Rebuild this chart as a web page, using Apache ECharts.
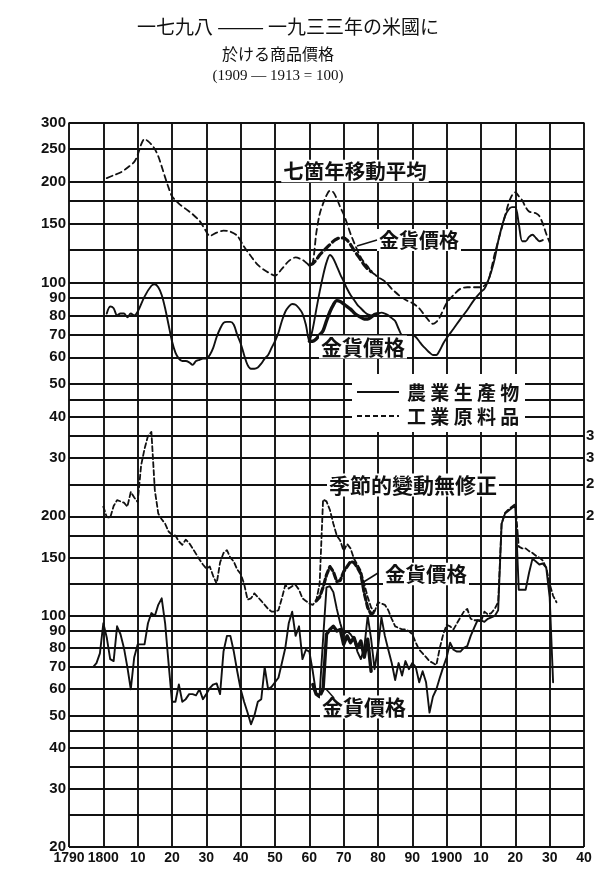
<!DOCTYPE html>
<html>
<head>
<meta charset="utf-8">
<script src="https://cdn.jsdelivr.net/npm/echarts@6/dist/echarts.min.js"></script>
<style>
  html, body { margin: 0; padding: 0; background: #fff; }
  #chart { width: 594px; height: 874px; }
</style>
</head>
<body>
<div id="chart"></div>
<script>
// ---- axes ----
const xTicks = [1790, 1800, 1810, 1820, 1830, 1840, 1850, 1860, 1870, 1880, 1890, 1900, 1910, 1920, 1930, 1940];
const xTickLabels = ['1790', '1800', '10', '20', '30', '40', '50', '60', '70', '80', '90', '1900', '10', '20', '30', '40'];

const topGridValues = [35, 40, 45, 50, 60, 70, 80, 90, 100, 125, 150, 175, 200, 250, 300];
const topLabelValues = [40, 50, 60, 70, 80, 90, 100, 150, 200, 250, 300];
const bottomGridValues = [20, 25, 30, 35, 40, 45, 50, 60, 70, 80, 90, 100, 125, 150, 175, 200, 250, 300, 350];
const bottomLabelValues = [20, 30, 40, 50, 60, 70, 80, 90, 100, 150, 200, 300];
const bottomLabelText = ['20', '30', '40', '50', '60', '70', '80', '90', '100', '150', '200', '30'];
const rightLabelValues = [200, 250, 300, 350];

// ---- seven-year moving averages (1909-1913 = 100) ----
const maIndYears = [1801, 1803, 1805, 1807, 1809, 1810, 1811, 1812, 1813, 1814, 1815, 1816, 1817, 1818, 1819, 1820, 1822, 1824, 1826, 1828, 1830, 1831, 1833, 1835, 1837, 1839, 1841, 1843, 1845, 1847, 1849, 1850, 1852, 1854, 1856, 1858, 1859, 1860, 1861, 1862, 1863, 1864, 1865, 1866, 1867, 1868, 1869, 1870, 1871, 1872, 1873, 1874, 1875, 1876, 1877, 1878, 1879, 1880, 1882, 1884, 1886, 1888, 1890, 1892, 1894, 1896, 1897, 1898, 1900, 1902, 1904, 1906, 1908, 1910, 1912, 1913, 1914, 1916, 1918, 1919, 1920, 1921, 1922, 1923, 1924, 1925, 1926, 1927, 1928, 1929, 1930];
const maInd = [205, 209, 213, 220, 229, 240, 258, 268, 264, 258, 250, 238, 222, 206, 192, 181, 172, 166, 160, 153, 142, 138, 141, 143, 142, 138, 128, 120, 113, 109, 106, 105, 110, 116, 119, 117, 115, 113, 115, 140, 160, 172, 182, 188, 186, 178, 168, 160, 150, 140, 132, 125, 119, 115, 112, 108, 106, 104, 101, 96, 92, 89, 87, 84, 79, 75.5, 76.5, 79, 87, 92, 96, 97, 97, 97, 101, 110, 122, 145, 172, 182, 186, 181, 176, 168, 163, 162, 161, 158, 150, 140, 132];

const maAgrYears = [1801, 1802, 1803, 1804, 1805, 1806, 1807, 1808, 1809, 1810, 1812, 1814, 1815, 1816, 1817, 1818, 1819, 1820, 1821, 1822, 1823, 1824, 1825, 1826, 1827, 1828, 1829, 1830, 1831, 1832, 1833, 1834, 1835, 1836, 1837, 1838, 1839, 1840, 1841, 1842, 1843, 1844, 1845, 1846, 1847, 1848, 1849, 1850, 1851, 1852, 1853, 1854, 1855, 1856, 1857, 1858, 1859, 1860, 1861, 1862, 1863, 1864, 1865, 1866, 1867, 1868, 1869, 1870, 1871, 1872, 1873, 1874, 1875, 1876, 1877, 1878, 1879, 1880, 1881, 1882, 1883, 1884, 1885, 1886, 1887, 1888, 1889, 1890, 1891, 1892, 1893, 1894, 1895, 1896, 1897, 1898, 1899, 1900, 1902, 1904, 1906, 1908, 1910, 1911, 1912, 1913, 1914, 1915, 1916, 1917, 1918, 1919, 1920, 1921, 1922, 1923, 1924, 1925, 1926, 1927, 1928, 1929];
const maAgr = [81, 85, 84, 80, 81, 81, 79, 81, 80, 82, 91, 98, 99, 97, 92, 84, 75, 67, 62, 59.5, 58.5, 58.5, 58, 57, 58.5, 59, 59.5, 59.5, 61, 64, 69, 73, 76, 76.5, 76.5, 75, 70, 66, 61, 57, 55.5, 55.5, 56, 57.5, 59.5, 61, 64, 67, 71, 77, 82, 85, 86.5, 86, 84, 81, 75, 67, 73, 83, 94, 105, 115, 121, 118, 112, 106, 101, 96, 92, 89, 86, 84, 82, 80.5, 80, 80.5, 81, 81.5, 81, 80, 78.5, 77, 73, 70, 70, 70, 70, 69, 67, 65, 63.5, 62, 61, 61, 63, 66, 68.5, 73, 78, 83, 89, 94, 96, 101, 108, 118, 133, 146, 158, 165, 168, 168, 150, 133, 133, 137, 139, 136, 133, 134];

// gold-price series during the greenback period
const maIndGoldYears = [1860, 1861, 1862, 1863, 1864, 1865, 1866, 1867, 1868, 1869, 1870, 1871, 1872, 1873, 1874, 1875, 1876, 1877, 1878];
const maIndGold = [113, 114, 117, 121, 124, 127, 130, 133, 135, 136, 136, 134, 130, 125, 121, 117, 113, 110, 108];
const maAgrGoldYears = [1860, 1861, 1862, 1863, 1864, 1865, 1866, 1867, 1868, 1869, 1870, 1871, 1872, 1873, 1874, 1875, 1876, 1877, 1878, 1879, 1880];
const maAgrGold = [67, 67, 68, 70, 72, 77, 82, 86, 88.5, 88, 86.5, 85, 83.5, 81.5, 80, 79, 78, 78, 79, 80.5, 81];

// ---- annual figures, not seasonally adjusted ----
const yrIndYears = [1800, 1801, 1802, 1803, 1804, 1805, 1806, 1807, 1808, 1809, 1810, 1811, 1812, 1813, 1814, 1815, 1816, 1817, 1818, 1819, 1820, 1821, 1822, 1823, 1824, 1825, 1826, 1827, 1828, 1829, 1830, 1831, 1832, 1833, 1834, 1835, 1836, 1837, 1838, 1839, 1840, 1841, 1842, 1843, 1844, 1845, 1846, 1847, 1848, 1849, 1850, 1851, 1852, 1853, 1854, 1855, 1856, 1857, 1858, 1859, 1860, 1861, 1862, 1863, 1864, 1865, 1866, 1867, 1868, 1869, 1870, 1871, 1872, 1873, 1874, 1875, 1876, 1877, 1878, 1879, 1880, 1881, 1882, 1883, 1884, 1885, 1886, 1887, 1888, 1889, 1890, 1891, 1892, 1893, 1894, 1895, 1896, 1897, 1898, 1899, 1900, 1901, 1902, 1903, 1904, 1905, 1906, 1907, 1908, 1909, 1910, 1911, 1912, 1913, 1914, 1915, 1916, 1917, 1918, 1919, 1920, 1921, 1922, 1923, 1924, 1925, 1926, 1927, 1928, 1929, 1930, 1931, 1932];
const yrInd = [214, 199, 198, 215, 224, 222, 220, 214, 237, 228, 221, 285, 320, 350, 360, 240, 204, 196, 190, 180, 176, 175, 168, 164, 170, 166, 160, 154, 148, 143, 139, 141, 132, 125, 145, 155, 158, 150, 146, 138, 134, 125, 112, 113, 117, 114, 111, 108, 105, 103, 103, 104, 113, 124, 121, 123, 124, 120, 113, 111, 109, 108, 111, 125, 225, 222, 209, 190, 175, 169, 157, 165, 160, 149, 143, 137, 125, 114, 106, 103, 110, 109, 108, 104, 98, 93, 92, 91, 91, 90, 88, 83, 79, 77, 75, 73, 72, 71, 80, 88, 94, 93, 91, 95, 99, 103, 105, 98, 97, 97, 96, 103, 101, 102, 105, 110, 190, 205, 210, 214, 218, 162, 160, 160, 157, 155, 152, 150, 147, 140, 125, 115, 110];

const yrAgrYears = [1797, 1798, 1799, 1800, 1801, 1802, 1803, 1804, 1805, 1806, 1807, 1808, 1809, 1810, 1811, 1812, 1813, 1814, 1815, 1816, 1817, 1818, 1819, 1820, 1821, 1822, 1823, 1824, 1825, 1826, 1827, 1828, 1829, 1830, 1831, 1832, 1833, 1834, 1835, 1836, 1837, 1838, 1839, 1840, 1841, 1842, 1843, 1844, 1845, 1846, 1847, 1848, 1849, 1850, 1851, 1852, 1853, 1854, 1855, 1856, 1857, 1858, 1859, 1860, 1861, 1862, 1863, 1864, 1865, 1866, 1867, 1868, 1869, 1870, 1871, 1872, 1873, 1874, 1875, 1876, 1877, 1878, 1879, 1880, 1881, 1882, 1883, 1884, 1885, 1886, 1887, 1888, 1889, 1890, 1891, 1892, 1893, 1894, 1895, 1896, 1897, 1898, 1899, 1900, 1901, 1902, 1903, 1904, 1905, 1906, 1907, 1908, 1909, 1910, 1911, 1912, 1913, 1914, 1915, 1916, 1917, 1918, 1919, 1920, 1921, 1922, 1923, 1924, 1925, 1926, 1927, 1928, 1929, 1930, 1931];
const yrAgr = [70, 72, 77, 95, 86, 74, 73, 93, 88, 80, 70, 60, 75, 82, 82, 82, 95, 102, 100, 108, 113, 95, 72, 55, 55, 62, 55, 56, 58, 58, 57.5, 60, 56, 58, 60.5, 62, 62.5, 58, 78, 87, 87, 78, 68, 60, 55, 51, 47, 50, 55, 56, 70, 60, 61, 63, 65, 72, 80, 95, 103, 87, 93, 74, 79, 78, 68, 58, 58, 85, 122, 123, 118, 105, 95, 88, 90, 88, 85, 78, 74, 80, 100, 85, 69, 80, 99, 87, 79, 72, 64, 72, 66, 73, 69, 72, 70, 63, 68, 63, 51, 57, 60, 65, 70, 75, 83, 79, 78, 78, 80, 81, 87, 92, 97, 97, 96, 98, 99, 100, 104, 190, 204, 208, 212, 215, 120, 120, 120, 135, 149, 146, 143, 144, 140, 114, 63];

const yrIndGoldYears = [1862, 1863, 1864, 1865, 1866, 1867, 1868, 1869, 1870, 1871, 1872, 1873, 1874, 1875, 1876, 1877, 1878, 1879];
const yrIndGold = [111, 114, 122, 133, 141, 136, 127, 128, 136, 141, 146, 145, 140, 134, 117, 106, 101, 103];
const yrAgrGoldYears = [1861, 1862, 1863, 1864, 1865, 1866, 1867, 1868, 1869, 1870, 1871, 1872, 1873, 1874, 1875, 1876, 1877, 1878];
const yrAgrGold = [62, 58, 57, 60, 88, 91, 93, 90, 91, 82, 87, 83, 86, 80, 84, 75, 85, 68];

// ---- helpers ----
const pair = (xs, ys) => xs.map((x, i) => [x, ys[i]]);
const INK = '#111';
const numFont = "'Liberation Sans','Arial',sans-serif";
const cjkFont = "'Noto Sans CJK JP','Noto Sans CJK SC',sans-serif";

function gridSeries(xi, yi, hValues) {
  return {
    type: 'line', xAxisIndex: xi, yAxisIndex: yi,
    data: [[1790, hValues[0]]], showSymbol: false, symbol: 'none',
    lineStyle: { opacity: 0 }, z: 1, silent: true,
    markLine: {
      silent: true, symbol: 'none', animation: false,
      label: { show: false },
      lineStyle: { color: INK, width: 1.9, type: 'solid' },
      data: hValues.map(v => ({ yAxis: v })).concat(xTicks.map(v => ({ xAxis: v })))
    }
  };
}

function curve(xi, yi, xs, ys, opt) {
  return {
    type: 'line', xAxisIndex: xi, yAxisIndex: yi,
    data: pair(xs, ys), showSymbol: false, symbol: 'none',
    smooth: opt.smooth || false, clip: false, z: 3,
    lineStyle: { color: INK, width: opt.width, type: opt.dash ? opt.dash : 'solid', cap: 'round', join: 'round' }
  };
}

const xAxisBase = {
  type: 'value', min: 1790, max: 1940, interval: 10,
  axisLine: { show: false }, axisTick: { show: false }, splitLine: { show: false }
};
const numLabel = { color: INK, fontFamily: numFont, fontWeight: 'bold' };

const option = {
  animation: false,
  backgroundColor: '#fff',
  grid: [
    { left: 69, top: 122.5, width: 515, height: 313.5, outerBoundsMode: 'none', containLabel: false },
    { left: 69, top: 436, width: 515, height: 411, outerBoundsMode: 'none', containLabel: false }
  ],
  xAxis: [
    Object.assign({ gridIndex: 0, axisLabel: { show: false } }, xAxisBase),
    Object.assign({
      gridIndex: 1,
      axisLabel: Object.assign({
        show: true, margin: 4, fontSize: 14,
        showMinLabel: true, showMaxLabel: true, hideOverlap: false,
        formatter: v => xTickLabels[xTicks.indexOf(Math.round(v))]
      }, numLabel)
    }, xAxisBase)
  ],
  yAxis: [
    {
      gridIndex: 0, type: 'log', logBase: 10, min: 35, max: 300,
      axisLine: { show: false }, axisTick: { show: false }, splitLine: { show: false },
      axisLabel: Object.assign({ customValues: topLabelValues, margin: 3, fontSize: 15,
        formatter: v => String(Math.round(v)) }, numLabel)
    },
    {
      gridIndex: 1, type: 'log', logBase: 10, min: 20, max: 350,
      axisLine: { show: false }, axisTick: { show: false }, splitLine: { show: false },
      axisLabel: Object.assign({ customValues: bottomLabelValues, margin: 3, fontSize: 15,
        formatter: v => bottomLabelText[bottomLabelValues.indexOf(Math.round(v))] }, numLabel)
    },
    {
      gridIndex: 1, type: 'log', logBase: 10, min: 20, max: 350, position: 'right',
      axisLine: { show: false }, axisTick: { show: false }, splitLine: { show: false },
      axisLabel: Object.assign({ customValues: rightLabelValues, margin: 2, fontSize: 15,
        formatter: v => String(Math.round(v)) }, numLabel)
    }
  ],
  series: [
    gridSeries(0, 0, topGridValues),
    gridSeries(1, 1, bottomGridValues),
    // seven-year moving averages
    curve(0, 0, maIndYears, maInd, { width: 1.8, dash: [6, 4], smooth: 0.3 }),
    curve(0, 0, maAgrYears, maAgr, { width: 1.9, smooth: 0.3 }),
    curve(0, 0, maIndGoldYears, maIndGold, { width: 3.2, dash: [7, 4], smooth: 0.3 }),
    curve(0, 0, maAgrGoldYears, maAgrGold, { width: 3.4, smooth: 0.3 }),
    // annual, not seasonally adjusted
    curve(1, 1, yrIndYears, yrInd, { width: 1.8, dash: [5, 3] }),
    curve(1, 1, yrAgrYears, yrAgr, { width: 1.9 }),
    curve(1, 1, yrIndGoldYears, yrIndGold, { width: 3.2, dash: [6, 3] }),
    curve(1, 1, yrAgrGoldYears, yrAgrGold, { width: 3.4 })
  ]
};

const chart = echarts.init(document.getElementById('chart'), null, { renderer: 'canvas' });
chart.setOption(option);

function label(text, x, y, size, align) {
  return {
    type: 'text', z: 100, silent: true,
    style: {
      text: text, x: x, y: y, fill: INK,
      font: 'bold ' + size + 'px ' + cjkFont,
      textAlign: align || 'left', textVerticalAlign: 'middle',
      backgroundColor: '#fff', padding: [1, 2]
    }
  };
}
function seg(x1, y1, x2, y2, w, dash) {
  return {
    type: 'line', z: 101, silent: true,
    shape: { x1: x1, y1: y1, x2: x2, y2: y2 },
    style: { stroke: INK, lineWidth: w, lineDash: dash || null }
  };
}

chart.setOption({
  graphic: [
    // heading
    { type: 'text', z: 100, style: { text: '一七九八 ——— 一九三三年の米國に', x: 288, y: 27, fill: INK,
        font: '19px ' + cjkFont, textAlign: 'center', textVerticalAlign: 'middle' } },
    { type: 'text', z: 100, style: { text: '於ける商品價格', x: 278, y: 54, fill: INK,
        font: '16px ' + cjkFont, textAlign: 'center', textVerticalAlign: 'middle' } },
    { type: 'text', z: 100, style: { text: '(1909 — 1913 = 100)', x: 278, y: 76, fill: INK,
        font: '15px "Liberation Serif", serif', textAlign: 'center', textVerticalAlign: 'middle' } },
    // panel captions
    label('七箇年移動平均', 355, 171, 20.5, 'center'),
    label('季節的變動無修正', 413, 485, 21, 'center'),
    // gold-price notes
    label('金貨價格', 377, 240, 20),
    seg(357, 246, 377, 240, 1.5),
    label('金貨價格', 319, 347, 21),
    label('金貨價格', 383, 574, 20.5),
    seg(362, 583, 378, 573, 1.5),
    label('金貨價格', 320, 707, 21),
    seg(326, 689, 334, 698, 1.5),
    // key
    { type: 'rect', z: 99, silent: true, shape: { x: 352, y: 374, width: 173, height: 58 }, style: { fill: '#fff' } },
    seg(357, 392, 399, 392, 2),
    seg(357, 416, 399, 416, 2, [5, 3]),
    { type: 'text', z: 100, style: { text: '農 業 生 產 物', x: 407, y: 393, fill: INK,
        font: 'bold 19px ' + cjkFont, textAlign: 'left', textVerticalAlign: 'middle' } },
    { type: 'text', z: 100, style: { text: '工 業 原 料 品', x: 407, y: 417, fill: INK,
        font: 'bold 19px ' + cjkFont, textAlign: 'left', textVerticalAlign: 'middle' } }
  ]
});
</script>
</body>
</html>
